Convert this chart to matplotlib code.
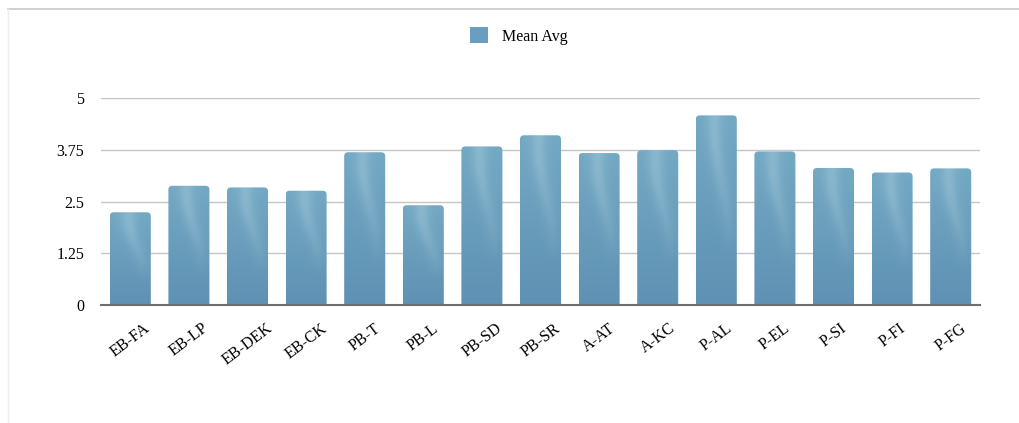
import matplotlib
matplotlib.use("Agg")
from matplotlib import pyplot as plt
from matplotlib.patches import FancyBboxPatch, Patch
from matplotlib.colors import to_rgb
from matplotlib.lines import Line2D
import numpy as np

plt.rcParams["font.family"] = ["Liberation Serif", "DejaVu Serif"]

categories = ["EB-FA", "EB-LP", "EB-DEK", "EB-CK", "PB-T", "PB-L", "PB-SD", "PB-SR",
              "A-AT", "A-KC", "P-AL", "P-EL", "P-SI", "P-FI", "P-FG"]
mean_avg = [2.24, 2.88, 2.84, 2.76, 3.69, 2.41, 3.83, 4.10,
            3.67, 3.74, 4.58, 3.71, 3.31, 3.20, 3.30]
y_ticks = [0, 1.25, 2.5, 3.75, 5]
y_tick_labels = ["0", "1.25", "2.5", "3.75", "5"]

W, H = 1019, 423
fig = plt.figure(figsize=(W / 100, H / 100), dpi=100)
ax = fig.add_axes([101 / W, 1 - 305 / H, 879 / W, 207 / H])

x = np.arange(len(categories))
bars = ax.bar(x, mean_avg, width=0.7, color="none", edgecolor="none", zorder=2)
ax.set_xlim(-0.5, len(categories) - 0.5)
ax.set_ylim(0, 5)

# textured-ish fill: vertical gradient with a lighter swoosh on the right
ny, nx = 200, 40
yy, xx = np.mgrid[1:0:complex(0, ny), 0:1:complex(0, nx)]
top_c = np.array(to_rgb("#74a9c4"))
bot_c = np.array(to_rgb("#5e91b3"))
light = np.array(to_rgb("#9cc3d6"))
base = bot_c + (top_c - bot_c) * yy[..., None]
centre = 0.62 + 0.18 * np.sin(yy * 5.0)
swoosh = np.exp(-((xx - centre) / 0.18) ** 2) * np.clip((yy - 0.25) / 0.6, 0, 1) * 0.55
img = base + (light - base) * swoosh[..., None]

px_x = 879 / len(categories)
px_y = 207 / 5
r = 4 / px_x
for rect in bars:
    bx, by = rect.get_x(), rect.get_y()
    bw, bh = rect.get_width(), rect.get_height()
    patch = FancyBboxPatch((bx + r, by - 1), bw - 2 * r, bh + 1 - r * px_x / px_y,
                           boxstyle=f"round,pad={r},rounding_size={r}",
                           mutation_aspect=px_x / px_y,
                           facecolor="none", edgecolor="none", zorder=2)
    ax.add_patch(patch)
    im = ax.imshow(img, extent=(bx, bx + bw, 0, bh), aspect="auto", zorder=2,
                   interpolation="bilinear")
    im.set_clip_path(patch)

ax.set_xlim(-0.5, len(categories) - 0.5)
ax.set_ylim(0, 5)

ax.set_yticks(y_ticks)
ax.set_yticklabels(y_tick_labels)
ax.set_xticks(x)
ax.set_xticklabels(categories, rotation=37, ha="center", va="top")
ax.tick_params(axis="both", length=0, labelsize=11.5, colors="black")
ax.tick_params(axis="x", pad=11)
ax.tick_params(axis="y", pad=12)

ax.grid(axis="y", color="#c6c6c6", linewidth=1, zorder=1)
ax.grid(axis="x", visible=False)
for side in ["top", "right", "left"]:
    ax.spines[side].set_visible(False)
ax.spines["bottom"].set_color("#6e6e6e")
ax.spines["bottom"].set_linewidth(1.5)
ax.spines["bottom"].set_zorder(3)

fig.legend(handles=[Patch(facecolor="#6a9ebe", edgecolor="none", label="Mean Avg")],
           loc="center", bbox_to_anchor=(519 / W, 1 - 36 / H), frameon=False,
           fontsize=11.5, handlelength=1.1, handleheight=1.1, handletextpad=0.9)

# card border
fig.add_artist(Line2D([8 / W, 1], [1 - 9.5 / H, 1 - 9.5 / H], color="#c8c8c8", lw=1.2))
fig.add_artist(Line2D([8 / W, 8 / W], [0, 1 - 9.5 / H], color="#eeeeee", lw=1))

fig.savefig("out.png", dpi=100)
